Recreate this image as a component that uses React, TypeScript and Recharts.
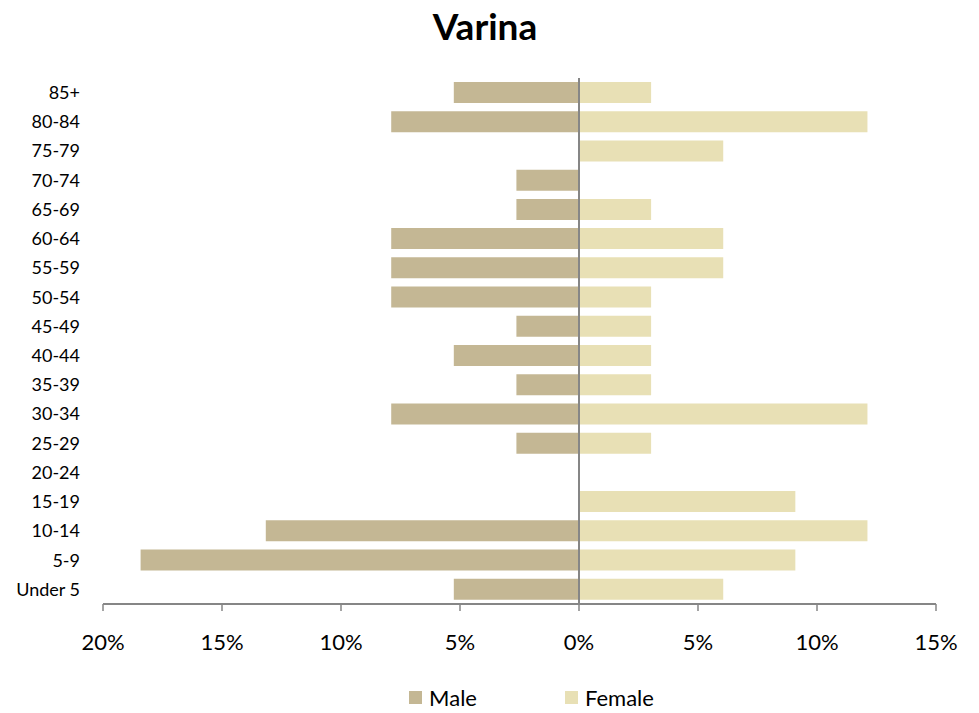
import React from 'react';
import { BarChart, Bar, XAxis, YAxis, ReferenceLine, Legend } from 'recharts';

// age groups, youngest first (axis is reversed so 85+ sits on top)
const ageGroups = [
  'Under 5', '5-9', '10-14', '15-19', '20-24', '25-29', '30-34', '35-39', '40-44',
  '45-49', '50-54', '55-59', '60-64', '65-69', '70-74', '75-79', '80-84', '85+',
];

// percent of each sex
const malePct = [5.26, 18.42, 13.16, 0, 0, 2.63, 7.89, 2.63, 5.26, 2.63, 7.89, 7.89, 7.89, 2.63, 2.63, 0, 7.89, 5.26];
const femalePct = [6.06, 9.09, 12.12, 9.09, 0, 3.03, 12.12, 3.03, 3.03, 3.03, 3.03, 6.06, 6.06, 3.03, 0, 6.06, 12.12, 3.03];

const xTicks = [-20, -15, -10, -5, 0, 5, 10, 15];

const MALE = '#c4b794';
const FEMALE = '#e8e0b5';
const AXIS = '#868686';
const FONT = 'Lato, "Open Sans", sans-serif';

const data = ageGroups.map((age, i) => ({
  age,
  male: -malePct[i],
  female: femalePct[i],
}));

const renderLegend = () => (
  <div style={{ display: 'flex', justifyContent: 'center', fontFamily: FONT, fontSize: 22, color: '#000', paddingLeft: 84 }}>
    <div style={{ display: 'flex', alignItems: 'center', marginRight: 88 }}>
      <span style={{ width: 13, height: 13, background: MALE, display: 'inline-block', marginRight: 7 }} />
      Male
    </div>
    <div style={{ display: 'flex', alignItems: 'center' }}>
      <span style={{ width: 13, height: 13, background: FEMALE, display: 'inline-block', marginRight: 7 }} />
      Female
    </div>
  </div>
);

export default function App() {
  return (
    <div style={{ position: 'absolute', left: 0, top: 0, width: 979, height: 713, background: '#fff' }}>
      <div
        style={{
          position: 'absolute', top: 3, left: 0, width: 970, textAlign: 'center',
          fontFamily: FONT, fontWeight: 700, fontSize: 37, color: '#000',
        }}
      >
        Varina
      </div>
      <BarChart
        width={979}
        height={713}
        data={data}
        layout="vertical"
        stackOffset="sign"
        barSize={21}
        margin={{ top: 78, right: 43, left: 8, bottom: 10 }}
      >
        <XAxis
          type="number"
          domain={[-20, 15]}
          ticks={xTicks}
          interval={0}
          tickFormatter={(v: number) => `${Math.abs(v)}%`}
          stroke={AXIS}
          axisLine={{ stroke: AXIS, strokeWidth: 2 }}
          tickLine={{ stroke: AXIS, strokeWidth: 1.5 }}
          tickSize={7}
          tickMargin={23}
          height={72}
          tick={{ fill: '#000', fontSize: 22, fontFamily: FONT }}
        />
        <YAxis
          type="category"
          dataKey="age"
          reversed
          width={95}
          axisLine={false}
          tickLine={false}
          tickSize={0}
          tickMargin={23}
          interval={0}
          tick={{ fill: '#000', fontSize: 18, fontFamily: FONT }}
        />
        <Bar dataKey="male" name="Male" stackId="a" fill={MALE} isAnimationActive={false} />
        <Bar dataKey="female" name="Female" stackId="a" fill={FEMALE} isAnimationActive={false} />
        <ReferenceLine x={0} stroke={AXIS} strokeWidth={2} />
        <Legend content={renderLegend} wrapperStyle={{ top: 684, left: 0, width: 979 }} />
      </BarChart>
    </div>
  );
}
